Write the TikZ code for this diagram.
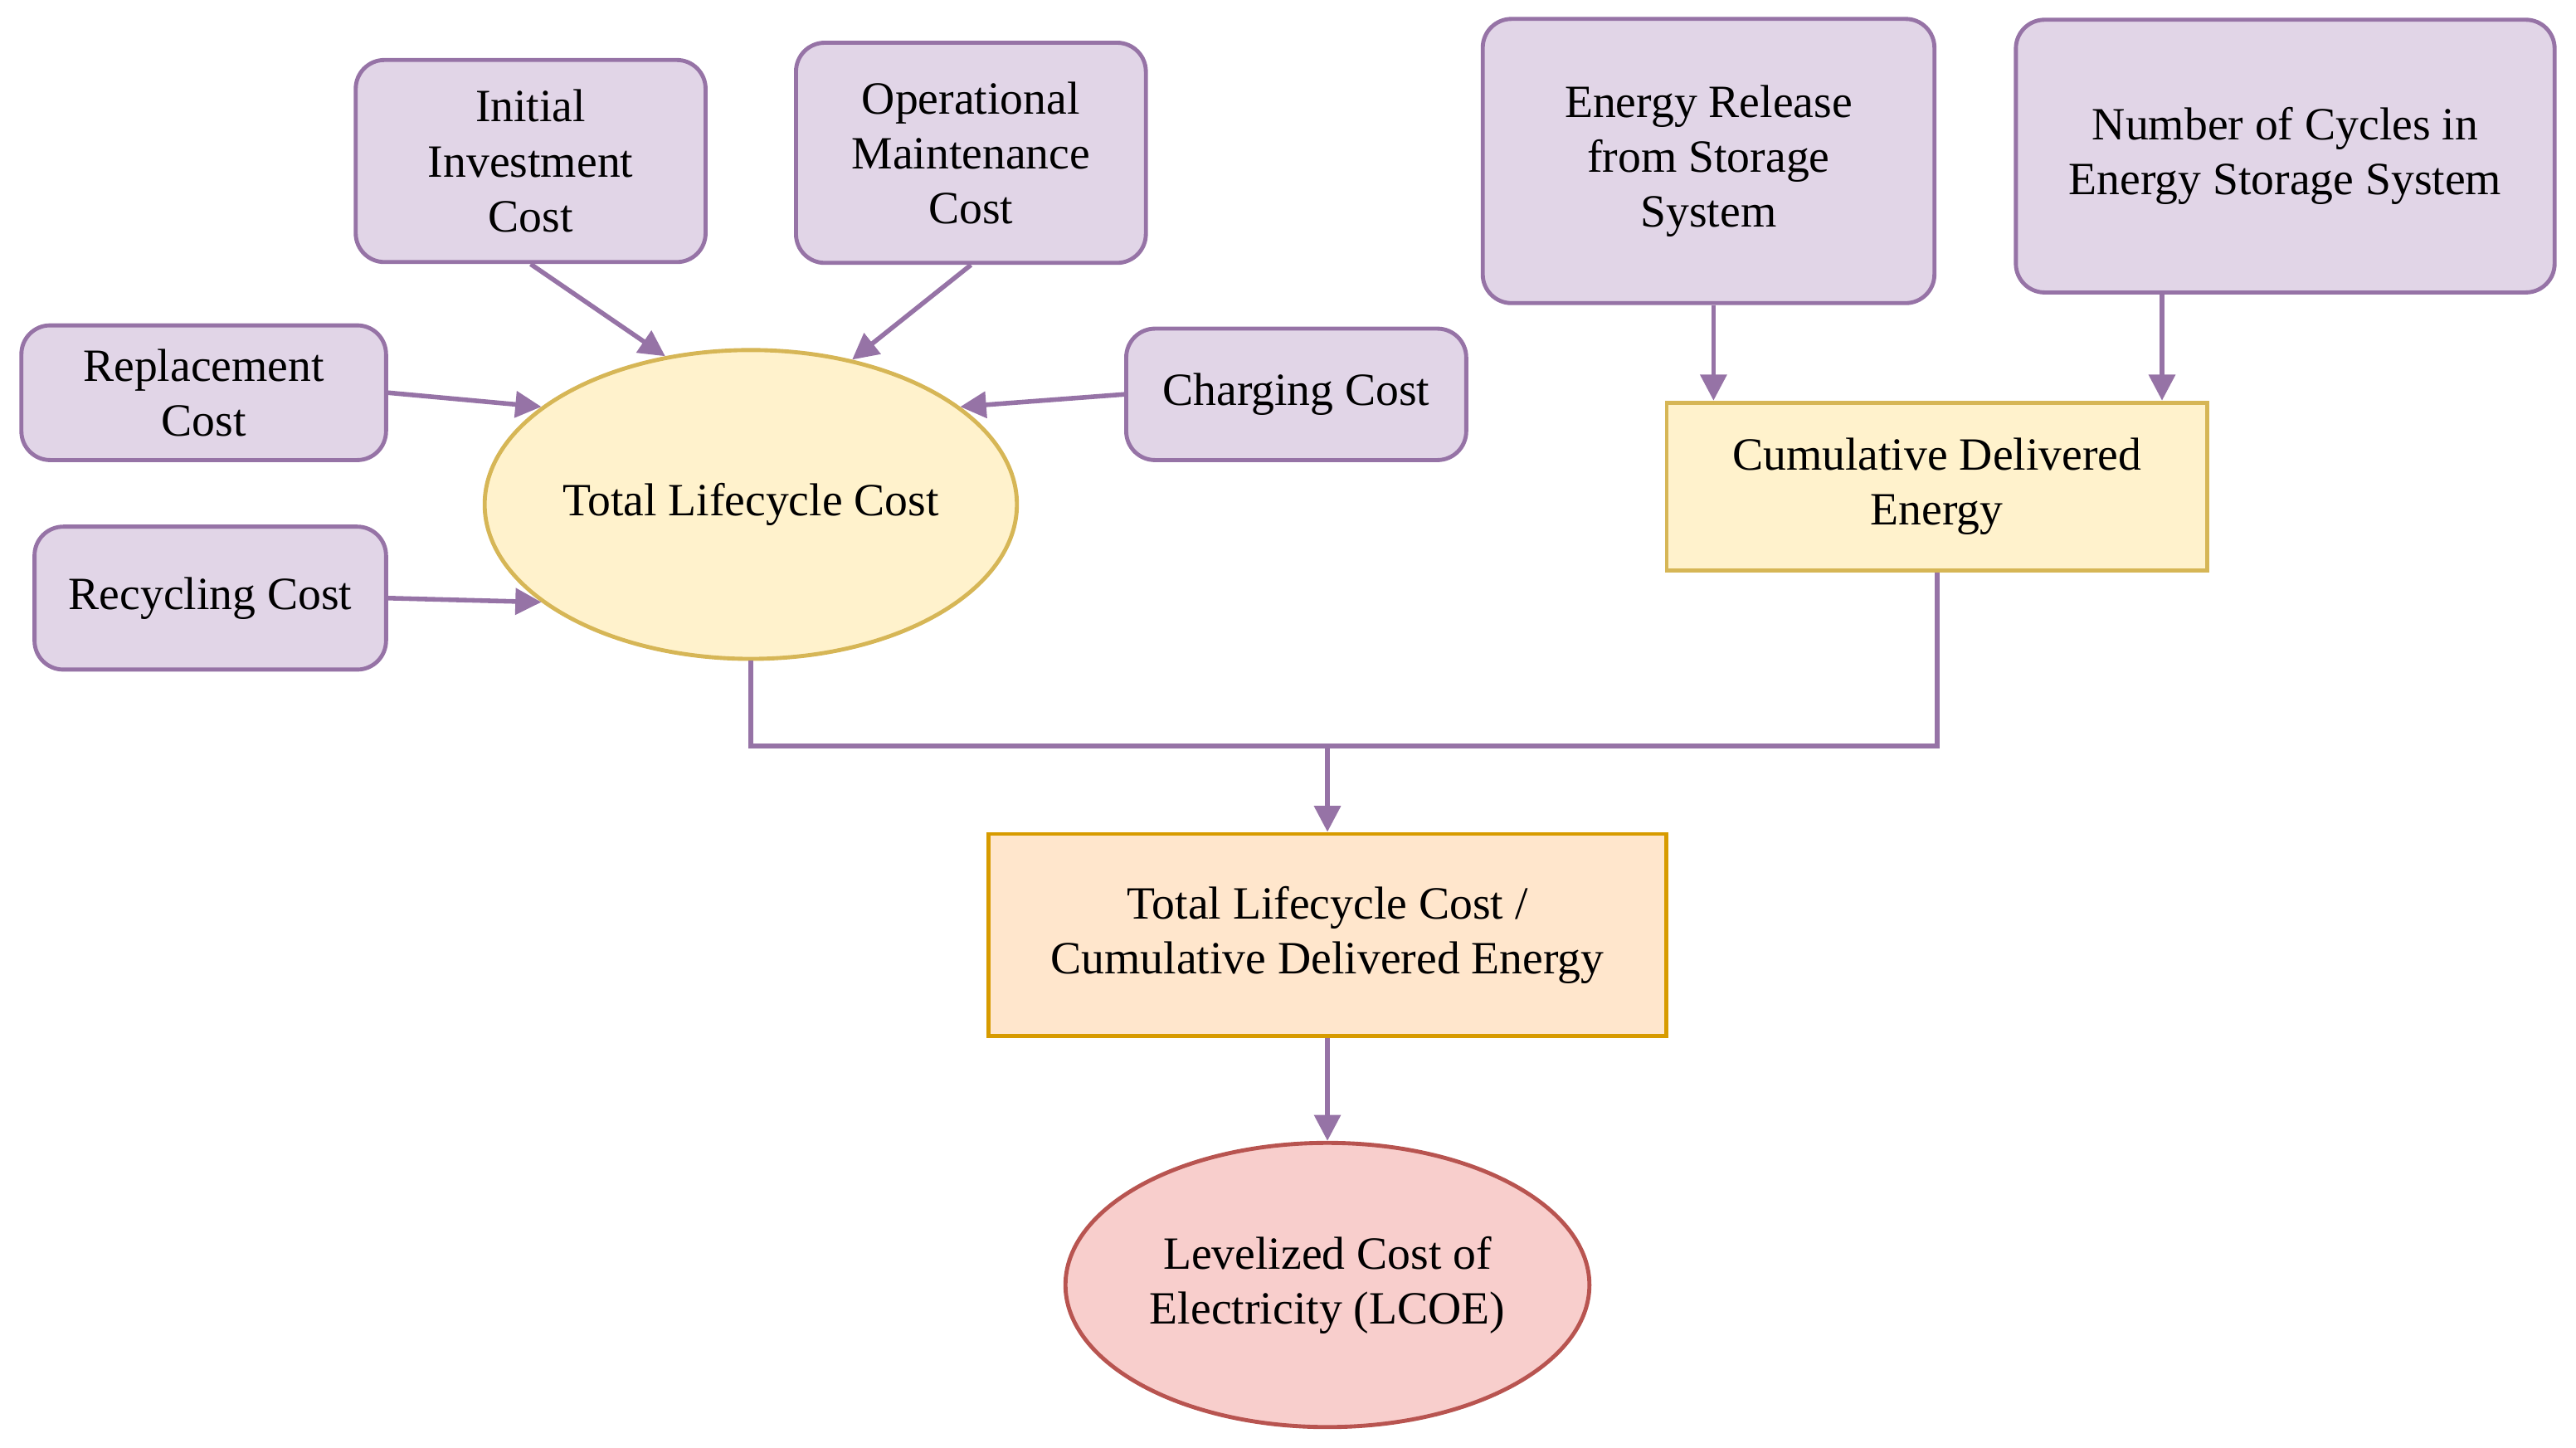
\documentclass[tikz,border=0pt]{standalone}
\usepackage{fontspec}
\setmainfont{Liberation Serif}
\usetikzlibrary{shapes.geometric,arrows.meta}
\definecolor{pf}{HTML}{E1D5E7}\definecolor{pd}{HTML}{9673A6}
\definecolor{yf}{HTML}{FFF2CC}\definecolor{yd}{HTML}{D6B656}
\definecolor{of}{HTML}{FFE6CC}\definecolor{od}{HTML}{D79B00}
\definecolor{rf}{HTML}{F8CECC}\definecolor{rd}{HTML}{B85450}
\begin{document}
\begin{tikzpicture}[x=0.02cm,y=-0.02cm,
  every node/.style={font=\fontsize{16}{19}\selectfont, align=center, inner sep=2pt},
  pbox/.style={draw=pd, fill=pf, line width=1.4pt, rounded corners=0.35cm},
  ybox/.style={draw=yd, fill=yf, line width=1.4pt},
  obox/.style={draw=od, fill=of, line width=1.4pt},
  yell/.style={ellipse, draw=yd, fill=yf, line width=1.4pt},
  rell/.style={ellipse, draw=rd, fill=rf, line width=1.4pt},
  arr/.style={draw=pd, line width=1.6pt, -{Triangle[length=9pt,width=9pt]}},
  ln/.style={draw=pd, line width=1.6pt}]
\path[use as bounding box] (0,0) rectangle (1568,881);
\node[pbox, minimum width=4.26cm, minimum height=2.46cm] (ini) at (323,98) {Initial\\Investment\\Cost};
\node[pbox, minimum width=4.26cm, minimum height=2.68cm] (op) at (591,93) {Operational\\Maintenance\\Cost};
\node[pbox, minimum width=5.5cm, minimum height=3.46cm] (ere) at (1040,98) {Energy Release\\from Storage\\System};
\node[pbox, minimum width=6.56cm, minimum height=3.32cm] (noc) at (1391,95) {Number of Cycles in\\Energy Storage System};
\node[pbox, minimum width=4.44cm, minimum height=1.64cm] (rep) at (124,239) {Replacement\\Cost};
\node[pbox, minimum width=4.14cm, minimum height=1.6cm] (chg) at (789,240) {Charging Cost};
\node[pbox, minimum width=4.28cm, minimum height=1.74cm] (rec) at (128,364) {Recycling Cost};
\node[yell, minimum width=6.42cm, minimum height=3.76cm, inner sep=0pt] (tlc) at (457,307) {Total Lifecycle Cost};
\node[ybox, minimum width=6.58cm, minimum height=2.04cm] (cde) at (1179,296) {Cumulative Delivered\\Energy};
\node[obox, minimum width=8.26cm, minimum height=2.46cm] (ratio) at (808,569) {Total Lifecycle Cost /\\Cumulative Delivered Energy};
\node[rell, minimum width=6.38cm, minimum height=3.46cm, inner sep=0pt] (lcoe) at (808,782) {Levelized Cost of\\Electricity (LCOE)};
\coordinate (c1) at (1043,0);
\coordinate (c2) at (1316,0);
\coordinate (j) at (808,454);
\draw[arr] (ini.south) -- (tlc.120);
\draw[arr] (op.south) -- (tlc.55);
\draw[arr] (rep.east) -- (tlc.155);
\draw[arr] (rec.east) -- (tlc.205);
\draw[arr] (chg.west) -- (tlc.25);
\draw[arr] (ere.south -| c1) -- (c1 |- cde.north);
\draw[arr] (noc.south -| c2) -- (c2 |- cde.north);
\draw[ln] (tlc.south) |- (j) -| (cde.south);
\draw[arr] (j) -- (ratio.north);
\draw[arr] (ratio.south) -- (lcoe.north);
\end{tikzpicture}
\end{document}
